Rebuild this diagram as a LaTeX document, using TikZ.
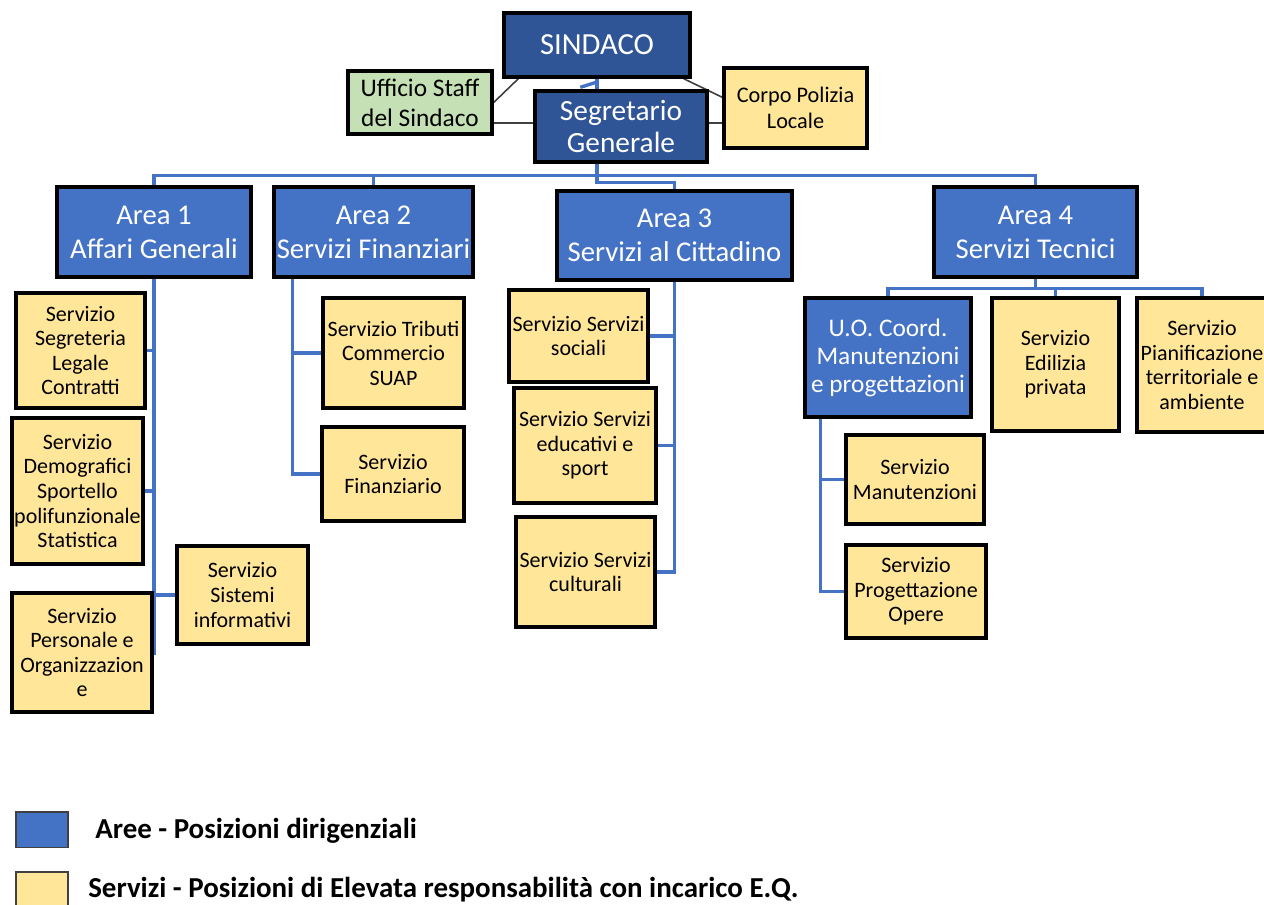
\documentclass[tikz,border=0pt]{standalone}
\usepackage{fontspec}
\setmainfont{Carlito}
\usetikzlibrary{backgrounds}
\definecolor{areablue}{HTML}{4472C4}
\definecolor{chiefblue}{HTML}{2F5597}
\definecolor{yelfill}{HTML}{FFE699}
\definecolor{greenfill}{HTML}{C5E0B4}
\definecolor{linkgray}{HTML}{404040}
\newcommand{\obox}[7]{\node[#1, minimum width={(#5-#3)*0.75pt}, minimum height={(#6-#4)*0.75pt}] (#2) at ({(#3+#5)/2},{(#4+#6)/2}) {#7};}
\begin{document}
\begin{tikzpicture}[x=0.75pt,y=-0.75pt,
  orgbox/.style={draw=black, line width=2.5pt, inner sep=0pt, align=center},
  yelbox/.style={orgbox, fill=yelfill, text=black, font=\fontsize{16.5}{18.4}\selectfont},
  greenbox/.style={orgbox, fill=greenfill, text=black, font=\fontsize{19}{22.5}\selectfont},
  areabox/.style={orgbox, fill=areablue, text=white, font=\fontsize{21.5}{25.5}\selectfont},
  chiefbox/.style={orgbox, fill=chiefblue, text=white},
  bluelink/.style={draw=areablue, line width=2.5pt},
  graylink/.style={draw=linkgray, line width=1.2pt},
  legsq/.style={draw=linkgray, line width=1pt, minimum width=39pt, minimum height=26.5pt, inner sep=0pt},
  legtext/.style={anchor=base west, inner sep=0pt, font=\bfseries\fontsize{21.7}{25}\selectfont}]
\useasboundingbox (0,0) rectangle (1264,904);
\begin{scope}[on background layer]
\fill[white] (0,0) rectangle (1264,904);
\end{scope}

% top level
\obox{chiefbox, font=\fontsize{23}{27}\selectfont}{sind}{504}{13}{690}{77}{SINDACO}
\obox{greenbox}{uff}{348}{71}{492}{134}{Ufficio Staff\\del Sindaco}
\obox{yelbox, font=\fontsize{16.7}{19}\selectfont}{pol}{724}{68}{867}{148}{Corpo Polizia\\Locale}
\obox{chiefbox, font=\fontsize{22}{23.5}\selectfont}{seg}{535}{91}{707}{162}{Segretario\\Generale}

% areas
\obox{areabox}{a1}{57}{187}{251}{277}{Area 1\\Affari Generali}
\obox{areabox}{a2}{274}{187}{473}{277}{Area 2\\Servizi Finanziari}
\obox{areabox}{a3}{557}{191}{792}{280}{Area 3\\Servizi al Cittadino}
\obox{areabox}{a4}{934}{187}{1137}{277}{Area 4\\Servizi Tecnici}

% area 1 services
\obox{yelbox}{s11}{16}{293}{145}{408}{Servizio\\Segreteria\\Legale\\Contratti}
\obox{yelbox}{s12}{12}{418}{143}{564}{Servizio\\Demografici\\Sportello\\polifunzionale\\Statistica}
\obox{yelbox}{s13}{12}{593}{152}{712}{Servizio\\Personale e\\Organizzazion\\e}
\obox{yelbox}{s14}{177}{546}{308}{644}{Servizio\\Sistemi\\informativi}

% area 2 services
\obox{yelbox}{s21}{323}{298}{464}{408}{Servizio Tributi\\Commercio\\SUAP}
\obox{yelbox}{s22}{322}{427}{464}{521}{Servizio\\Finanziario}

% area 3 services
\obox{yelbox}{s31}{509}{290}{648}{382}{Servizio Servizi\\sociali}
\obox{yelbox}{s32}{514}{388}{656}{503}{Servizio Servizi\\educativi e\\sport}
\obox{yelbox}{s33}{516}{517}{655}{627}{Servizio Servizi\\culturali}

% area 4 units
\obox{areabox, font=\fontsize{19}{21}\selectfont}{uo}{805}{298}{971}{417}{U.O. Coord.\\Manutenzioni\\e progettazioni}
\obox{yelbox}{s42}{992}{298}{1119}{431}{Servizio\\Edilizia\\privata}
\obox{yelbox}{s43}{1137}{298}{1267}{432}{Servizio\\Pianificazione\\territoriale e\\ambiente}
\obox{yelbox}{s44}{846}{435}{984}{524}{Servizio\\Manutenzioni}
\obox{yelbox}{s45}{846}{545}{986}{638}{Servizio\\Progettazione\\Opere}

% legend
\node[legsq, fill=areablue] (lg1) at (42,829.5) {};
\node[legsq, fill=yelfill] (lg2) at (42,889.5) {};
\node[legtext] (lt1) at (95,838) {Aree - Posizioni dirigenziali};
\node[legtext] (lt2) at (88,897) {Servizi - Posizioni di Elevata responsabilità con incarico E.Q.};

% connectors
\begin{scope}[on background layer]
\coordinate (segtop) at (sind.south |- seg.north);
\draw[graylink] ([xshift=12pt]sind.south west) -- (uff.east);
\draw[graylink] ([yshift=2.6pt]seg.west) -- ([yshift=2.6pt]seg.west -| uff.east);
\draw[graylink] ([xshift=-6pt]sind.south east) -- ([yshift=8pt]pol.west);
\draw[graylink] ([yshift=2.6pt]seg.east) -- ([yshift=2.6pt]seg.east -| pol.west);
\draw[bluelink] (sind.south) -- (segtop);
\draw[bluelink] ([xshift=-12.5pt,yshift=1.5pt]segtop) -- ([yshift=-2.5pt]sind.south);
\draw[bluelink] (sind.south |- seg.south) -- ++(0,19) -| (a3.north);
\draw[bluelink] (a1.north) -- ++(0,-10) -| (a4.north);
\draw[bluelink] (a2.north) -- ++(0,-10);
% area 1
\draw[bluelink] (a1.south) -- ++(0,376) coordinate (a1end);
\draw[bluelink] (s11.east) -- (s11.east -| a1.south);
\draw[bluelink] (s12.east) -- (s12.east -| a1.south);
\draw[bluelink] (s14.west) -- (s14.west -| a1.south);
% area 2
\coordinate (t2) at ([xshift=15pt]a2.south west);
\draw[bluelink] (t2) |- (s22.west);
\draw[bluelink] (s21.west) -- (s21.west -| t2);
% area 3
\draw[bluelink] (a3.south) |- (s33.east);
\draw[bluelink] (s31.east) -- (s31.east -| a3.south);
\draw[bluelink] (s32.east) -- (s32.east -| a3.south);
% area 4
\draw[bluelink] (a4.south) -- ++(0,10) coordinate (b4);
\draw[bluelink] (uo.north) |- (b4) -| (s43.north);
\draw[bluelink] (s42.north) -- (s42.north |- b4);
\coordinate (t4) at ([xshift=12.75pt]uo.south west);
\draw[bluelink] (t4) |- (s45.west);
\draw[bluelink] (s44.west) -- (s44.west -| t4);
\end{scope}
\end{tikzpicture}
\end{document}
